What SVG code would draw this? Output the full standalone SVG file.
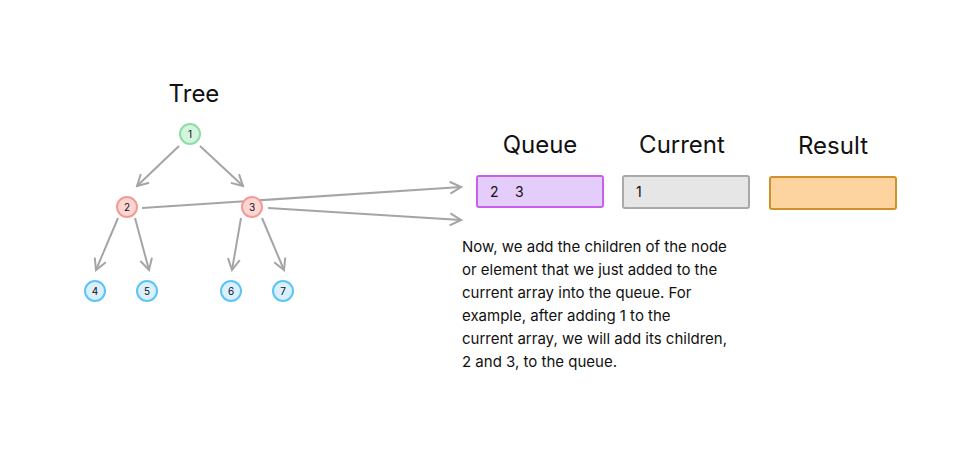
<svg xmlns="http://www.w3.org/2000/svg" width="980" height="457" viewBox="0 0 980 457">
<defs>
<marker id="ah" viewBox="0 0 14 14" refX="12" refY="7" markerWidth="14" markerHeight="14" markerUnits="userSpaceOnUse" orient="auto">
<path d="M1 1 L12 7 L1 13" fill="none" stroke="#a5a5a5" stroke-width="2"/>
</marker>
<style>
text{font-family:Inter,"Liberation Sans",sans-serif;fill:#111}
.t{font-size:24px;text-anchor:middle}
.n{font-size:10px;text-anchor:middle}
.c line{stroke:#a5a5a5;stroke-width:2;marker-end:url(#ah)}
.p{font-size:15px}
</style>
</defs>
<rect width="980" height="457" fill="#fff"/>
<text class="t" x="194" y="102">Tree</text>
<text class="t" x="540" y="153">Queue</text>
<text class="t" x="682" y="153">Current</text>
<text class="t" x="833" y="154">Result</text>
<g class="c">
<line x1="179" y1="146" x2="137" y2="186"/>
<line x1="200" y1="146" x2="243" y2="186"/>
<line x1="118" y1="218" x2="96" y2="270"/>
<line x1="135" y1="218" x2="149" y2="270"/>
<line x1="241" y1="218" x2="232" y2="270"/>
<line x1="262" y1="218" x2="284" y2="270"/>
<line x1="142" y1="208" x2="461" y2="187"/>
<line x1="268" y1="208" x2="461" y2="220"/>
</g>
<g id="n1"><circle cx="190" cy="134" r="10" fill="#d3f5dd" stroke="#8fdca6" stroke-width="2"/><text class="n" x="190" y="138">1</text></g>
<g id="n2"><circle cx="127" cy="207" r="10" fill="#fdd6d4" stroke="#f49a91" stroke-width="2"/><text class="n" x="127" y="211">2</text></g>
<g id="n3"><circle cx="252" cy="207" r="10" fill="#fdd6d4" stroke="#f49a91" stroke-width="2"/><text class="n" x="252" y="211">3</text></g>
<g id="n4"><circle cx="95" cy="291" r="10" fill="#dbf0ff" stroke="#5cc4f7" stroke-width="2"/><text class="n" x="95" y="295">4</text></g>
<g id="n5"><circle cx="147" cy="291" r="10" fill="#dbf0ff" stroke="#5cc4f7" stroke-width="2"/><text class="n" x="147" y="295">5</text></g>
<g id="n6"><circle cx="231" cy="291" r="10" fill="#dbf0ff" stroke="#5cc4f7" stroke-width="2"/><text class="n" x="231" y="295">6</text></g>
<g id="n7"><circle cx="283" cy="291" r="10" fill="#dbf0ff" stroke="#5cc4f7" stroke-width="2"/><text class="n" x="283" y="295">7</text></g>
<g id="queue"><rect x="477" y="176" width="126" height="31" rx="2" fill="#e5cdfb" stroke="#c860ef" stroke-width="2"/><text x="490" y="197" font-size="14">2</text><text x="515" y="197" font-size="14">3</text></g>
<g id="current"><rect x="623" y="176" width="126" height="32" rx="2" fill="#e6e6e6" stroke="#a9a9a9" stroke-width="2"/><text x="636" y="197" font-size="14">1</text></g>
<g id="result"><rect x="770" y="177" width="126" height="32" rx="2" fill="#fdd49f" stroke="#d0902a" stroke-width="2"/></g>
<g id="desc">
<text class="p" x="462" y="252">Now, we add the children of the node</text>
<text class="p" x="462" y="275">or element that we just added to the</text>
<text class="p" x="462" y="298">current array into the queue. For</text>
<text class="p" x="462" y="321">example, after adding 1 to the</text>
<text class="p" x="462" y="344">current array, we will add its children,</text>
<text class="p" x="462" y="367">2 and 3, to the queue.</text>
</g>
</svg>
